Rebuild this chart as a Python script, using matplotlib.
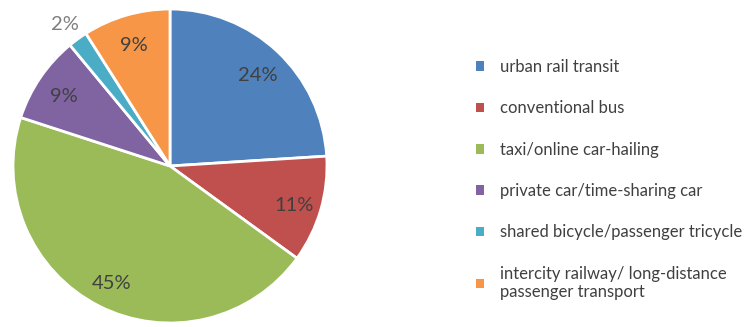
import matplotlib
matplotlib.use("Agg")
import matplotlib.pyplot as plt
from matplotlib.patches import Patch
import numpy as np

categories = [
    "urban rail transit",
    "conventional bus",
    "taxi/online car-hailing",
    "private car/time-sharing car",
    "shared bicycle/passenger tricycle",
    "intercity railway/ long-distance\npassenger transport",
]
shares = [24, 11, 45, 9, 2, 9]
colors = ["#4F81BD", "#C0504D", "#9BBB59", "#8064A2", "#4BACC6", "#F79646"]

plt.rcParams["font.family"] = ["Lato", "DejaVu Sans"]

W, H = 744, 327
fig = plt.figure(figsize=(W / 100, H / 100), dpi=100)
cx, cy, r = 170, 166, 157
ax = fig.add_axes([(cx - r) / W, (H - cy - r) / H, 2 * r / W, 2 * r / H])

wedges, _ = ax.pie(
    shares,
    colors=colors,
    startangle=90,
    counterclock=False,
    radius=1.0,
    wedgeprops=dict(edgecolor="white", linewidth=2),
)
ax.set_xlim(-1, 1)
ax.set_ylim(-1, 1)
ax.set_aspect("equal")
ax.axis("off")

# percentage labels placed along each wedge's mid-angle
total = sum(shares)
start = 90.0
for val in shares:
    sweep = 360.0 * val / total
    mid = np.deg2rad(start - sweep / 2)
    start -= sweep
    if val < 5:
        d, col = 1.14, "#7F7F7F"
    else:
        d, col = 0.82, "#404040"
    ax.text(d * np.cos(mid), d * np.sin(mid) - 0.02, f"{val}%", ha="center", va="center",
            fontsize=14.5, color=col, clip_on=False)

handles = [Patch(facecolor=c, edgecolor="none") for c in colors]
leg = fig.legend(
    handles, categories,
    loc="upper left", bbox_to_anchor=(476 / W, 1 - 59 / H),
    frameon=False, fontsize=12, labelcolor="#404040",
    handlelength=0.5, handleheight=0.5, handletextpad=0.95,
    labelspacing=1.52, borderaxespad=0, borderpad=0,
)

fig.savefig("out.png", dpi=100, facecolor="white")
